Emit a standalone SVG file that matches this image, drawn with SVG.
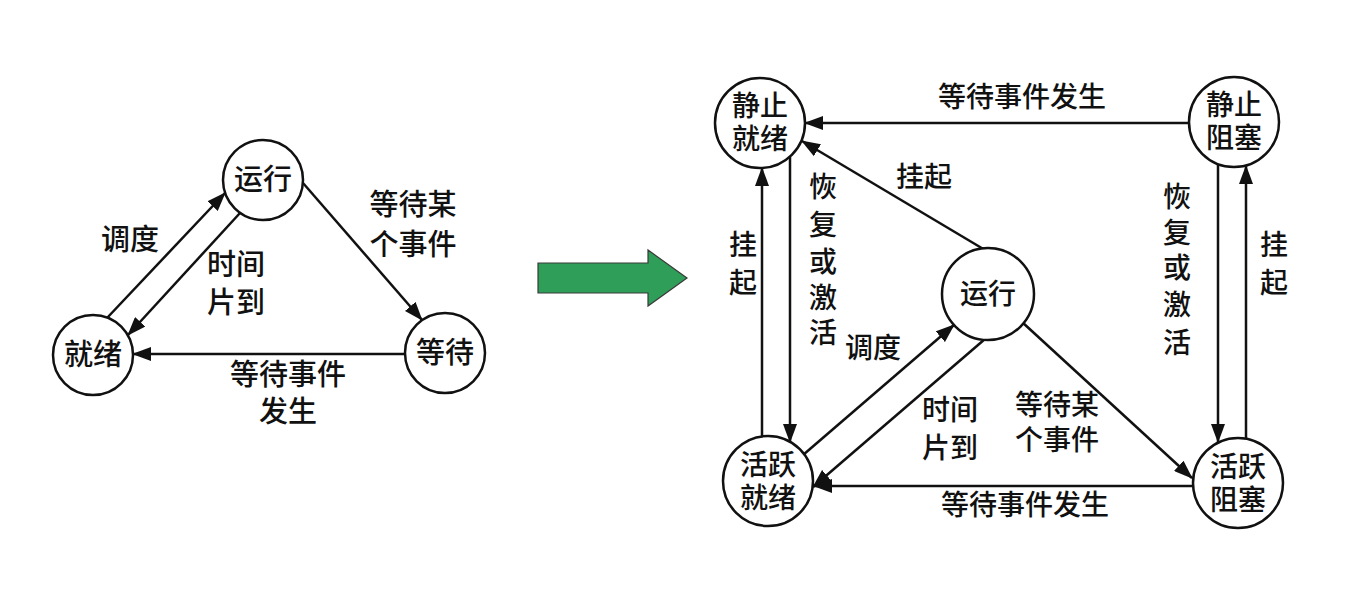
<svg xmlns="http://www.w3.org/2000/svg" width="1346" height="600" viewBox="0 0 1346 600">
<style>
.n{fill:#fff;stroke:#111;stroke-width:2.5}
.c{stroke:#111;stroke-width:2.5;fill:none}
text{font-family:"Noto Sans CJK SC","Noto Sans",sans-serif;fill:#111;text-anchor:middle;font-weight:500}
.l{font-size:29px}
.s{font-size:28px}
</style>
<defs>
<marker id="ah" markerUnits="userSpaceOnUse" markerWidth="19" markerHeight="14" refX="18" refY="7" orient="auto">
<path d="M0,0 L19,7 L0,14 Z" fill="#111"/>
</marker>
</defs>
<rect width="1346" height="600" fill="#fff"/>
<g id="connectors">
<line class="c" x1="107" y1="318" x2="225" y2="193" marker-end="url(#ah)"/>
<line class="c" x1="240" y1="213" x2="128" y2="335" marker-end="url(#ah)"/>
<line class="c" x1="303" y1="183" x2="422" y2="320" marker-end="url(#ah)"/>
<line class="c" x1="405" y1="354" x2="133" y2="354" marker-end="url(#ah)"/>
<line class="c" x1="1189" y1="123" x2="805" y2="123" marker-end="url(#ah)"/>
<line class="c" x1="985" y1="250" x2="802" y2="141" marker-end="url(#ah)"/>
<line class="c" x1="762" y1="437" x2="762" y2="168" marker-end="url(#ah)"/>
<line class="c" x1="790" y1="157" x2="790" y2="442" marker-end="url(#ah)"/>
<line class="c" x1="1218" y1="164" x2="1218" y2="442" marker-end="url(#ah)"/>
<line class="c" x1="1246" y1="439" x2="1246" y2="166" marker-end="url(#ah)"/>
<line class="c" x1="803" y1="455" x2="954" y2="325" marker-end="url(#ah)"/>
<line class="c" x1="985" y1="339" x2="813" y2="487" marker-end="url(#ah)"/>
<line class="c" x1="1022" y1="322" x2="1192" y2="478" marker-end="url(#ah)"/>
<line class="c" x1="1193" y1="486" x2="814" y2="486" marker-end="url(#ah)"/>
</g>
<g id="labels">
<text class="l" x="130" y="250">调度</text>
<text class="l" x="236" y="275">时间<tspan x="236" dy="38">片到</tspan></text>
<text class="l" x="413" y="215">等待某<tspan x="413" dy="40">个事件</tspan></text>
<text class="l" x="288" y="385">等待事件<tspan x="288" dy="37">发生</tspan></text>
<text class="s" x="1022" y="107">等待事件发生</text>
<text class="s" x="924" y="187">挂起</text>
<text class="s" x="743" y="255">挂<tspan x="743" dy="38">起</tspan></text>
<text class="s" x="823" y="197">恢<tspan x="823" dy="38">复</tspan><tspan x="823" dy="37">或</tspan><tspan x="823" dy="36">激</tspan><tspan x="823" dy="35">活</tspan></text>
<text class="s" x="1177" y="207">恢<tspan x="1177" dy="36">复</tspan><tspan x="1177" dy="35">或</tspan><tspan x="1177" dy="37">激</tspan><tspan x="1177" dy="38">活</tspan></text>
<text class="s" x="1274" y="255">挂<tspan x="1274" dy="38">起</tspan></text>
<text class="s" x="873" y="358">调度</text>
<text class="s" x="950" y="420">时间<tspan x="950" dy="38">片到</tspan></text>
<text class="s" x="1057" y="415">等待某<tspan x="1057" dy="35">个事件</tspan></text>
<text class="s" x="1025" y="515">等待事件发生</text>
</g>
<g id="arrow-green">
<path d="M538,263 L648,263 L648,250 L687,278 L648,306 L648,293 L538,293 Z" fill="#2f9e58" stroke="#3a3a3a" stroke-width="1.2"/>
</g>
<g id="n-run-l"><circle class="n" cx="263" cy="180" r="40"/><text class="l" x="263" y="190">运行</text></g>
<g id="n-ready-l"><circle class="n" cx="93" cy="355" r="40"/><text class="l" x="93" y="365">就绪</text></g>
<g id="n-wait-l"><circle class="n" cx="445" cy="353" r="40"/><text class="l" x="445" y="363">等待</text></g>
<g id="n-sr"><circle class="n" cx="760" cy="123" r="45"/><text class="s" x="760" y="116">静止<tspan x="760" dy="33">就绪</tspan></text></g>
<g id="n-sb"><circle class="n" cx="1234" cy="122" r="45"/><text class="s" x="1234" y="115">静止<tspan x="1234" dy="33">阻塞</tspan></text></g>
<g id="n-run"><circle class="n" cx="988" cy="294" r="46"/><text class="s" x="988" y="304">运行</text></g>
<g id="n-ar"><circle class="n" cx="768" cy="481" r="45"/><text class="s" x="768" y="475">活跃<tspan x="768" dy="33">就绪</tspan></text></g>
<g id="n-ab"><circle class="n" cx="1238" cy="483" r="45"/><text class="s" x="1238" y="477">活跃<tspan x="1238" dy="33">阻塞</tspan></text></g>
</svg>
